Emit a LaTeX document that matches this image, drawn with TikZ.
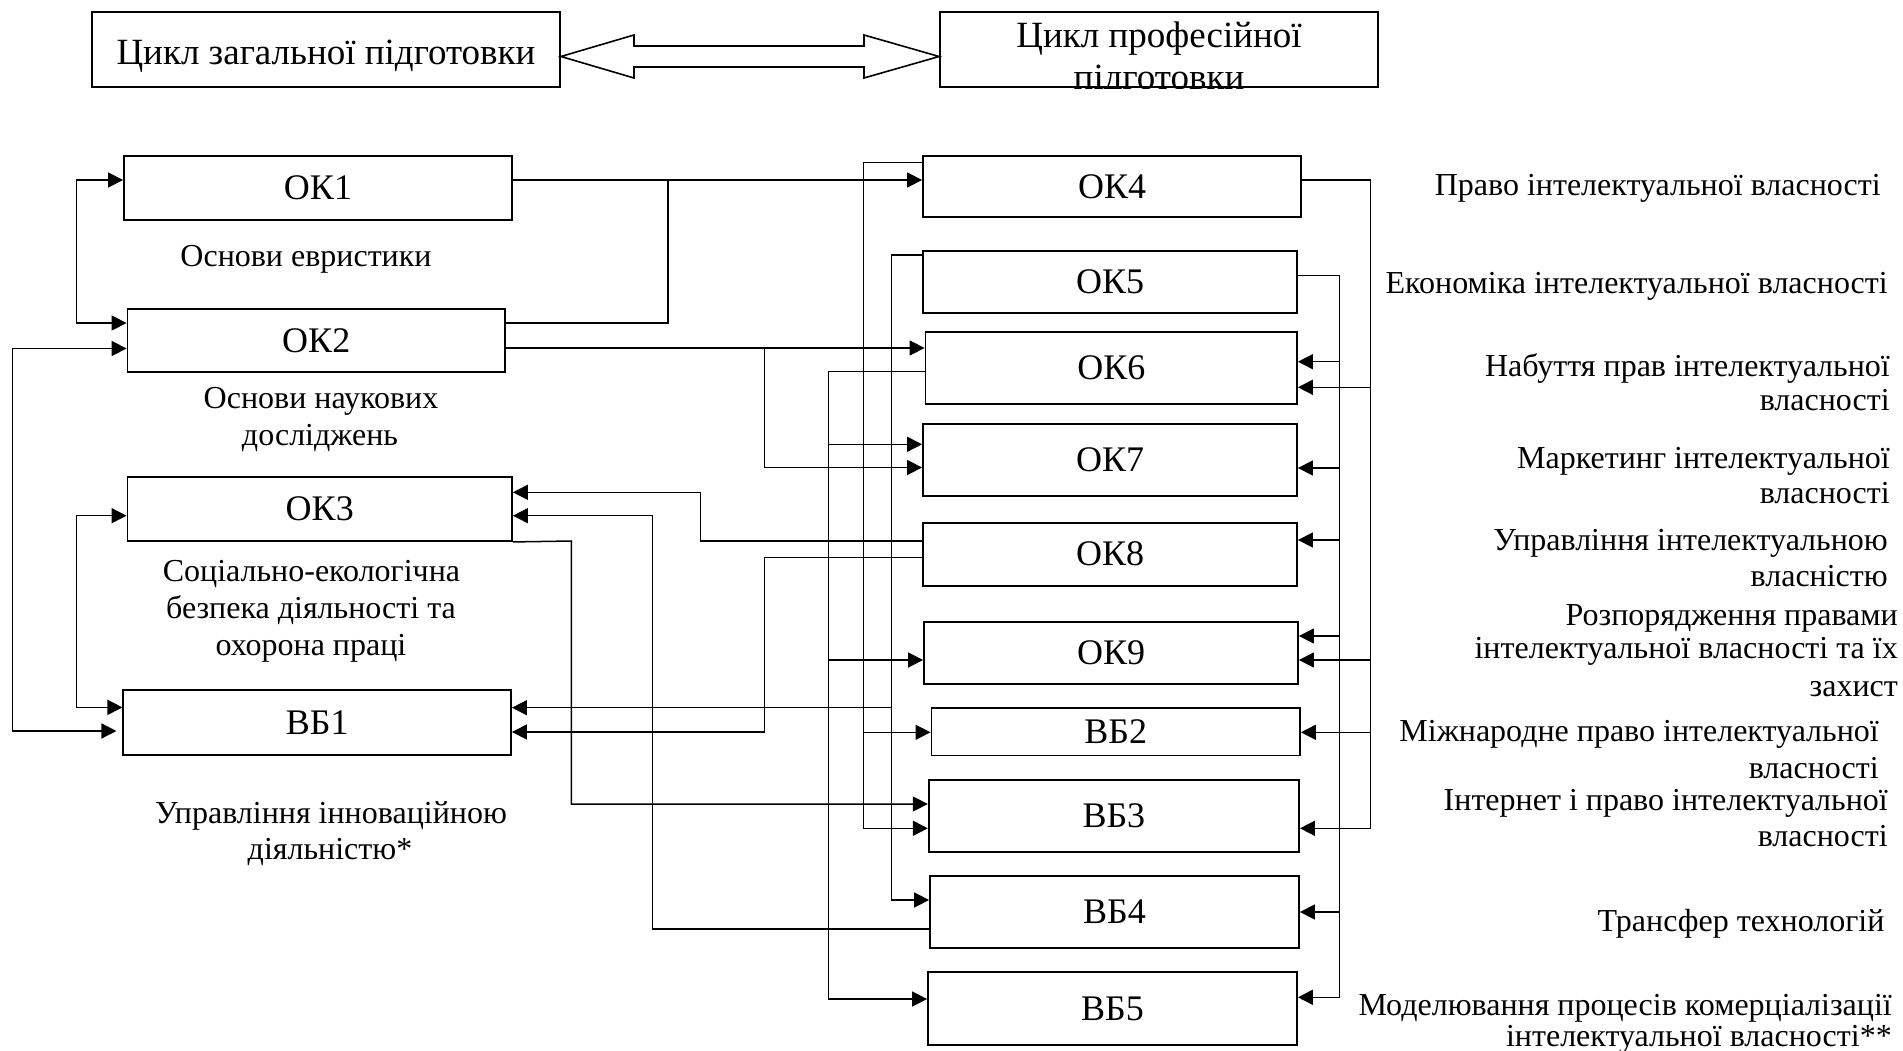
\documentclass[tikz,border=0pt]{standalone}
\usepackage{fontspec}
\setmainfont{Liberation Serif}
\usetikzlibrary{arrows.meta}
\begin{document}
\begin{tikzpicture}[x=1pt,y=-1pt,
  box/.style={draw, line width=1.8pt, inner sep=0pt, font=\fontsize{36}{40}\selectfont},
  topbox/.style={draw, line width=1.8pt, inner sep=0pt},
  toptxt/.style={inner sep=0pt, font=\fontsize{37}{41}\selectfont},
  conn/.style={line width=1.5pt},
  arr/.style={conn, -{Triangle[length=15pt,width=15pt]}},
  arrboth/.style={conn, {Triangle[length=15pt,width=15pt]}-{Triangle[length=15pt,width=15pt]}},
  lab/.style={inner sep=0pt, font=\fontsize{32}{36}\selectfont},
]
\useasboundingbox (0,0) rectangle (1903,1051);

% ---- top boxes ----
\node[topbox, minimum width=468pt, minimum height=75.6pt] (tA) at (326,49.5) {};
\node[toptxt, anchor=base] (tAt) at (tA.center |- 0,65) {Цикл загальної підготовки};
\node[topbox, minimum width=438pt, minimum height=75.6pt] (tB) at (1159,49.5) {};
\begin{scope}
  \clip (tB.north west) rectangle (tB.south east);
  \node[toptxt, anchor=base] (tBt1) at (tB.center |- 0,48) {Цикл професійної};
  \node[toptxt, anchor=base] (tBt2) at (tB.center |- 0,90) {підготовки};
\end{scope}
\draw[line width=1.6pt] (tA.east |- 0,56.5) -- (634,35) -- (634,46) -- (864,46) -- (864,35)
  -- (tB.west |- 0,56.5) -- (864,78) -- (864,67) -- (634,67) -- (634,78) -- cycle;

% ---- left column ----
\node[box, minimum width=388pt, minimum height=64pt] (ok1) at (318,188) {ОК1};
\node[box, minimum width=377.5pt, minimum height=62.7pt] (ok2) at (316.25,340.4) {ОК2};
\node[box, minimum width=384.5pt, minimum height=64.3pt] (ok3) at (319.75,508.9) {ОК3};
\node[box, minimum width=387.7pt, minimum height=65.4pt] (vb1) at (317.2,722.3) {ВБ1};

\node[lab, anchor=base] (l1) at (306,266.7) {Основи евристики};
\node[lab, anchor=base] (l2a) at (321,408.3) {Основи наукових};
\node[lab, anchor=base] (l2b) at (320,445) {досліджень};
\node[lab, anchor=base] (l3a) at (311.5,581.7) {Соціально-екологічна};
\node[lab, anchor=base] (l3b) at (311,618) {безпека діяльності та};
\node[lab, anchor=base] (l3c) at (311,655) {охорона праці};
\node[lab, anchor=base] (l4a) at (331,823) {Управління інноваційною};
\node[lab, anchor=base] (l4b) at (330,859.6) {діяльністю*};

% ---- right column ----
\node[box, minimum width=378pt, minimum height=61.6pt] (ok4) at (1112,186.5) {ОК4};
\node[box, minimum width=374pt, minimum height=62.3pt] (ok5) at (1110,281.9) {ОК5};
\node[box, minimum width=371.5pt, minimum height=71.7pt] (ok6) at (1111.25,368.2) {ОК6};
\node[box, minimum width=374pt, minimum height=71.4pt] (ok7) at (1110,460) {ОК7};
\node[box, minimum width=374pt, minimum height=63pt] (ok8) at (1110,554.2) {ОК8};
\node[box, minimum width=374pt, minimum height=62.3pt] (ok9) at (1111,652.9) {ОК9};
\node[box, minimum width=368.6pt, minimum height=47.8pt] (vb2) at (1115.7,731.6) {ВБ2};
\node[box, minimum width=370.3pt, minimum height=71.7pt] (vb3) at (1113.9,815.9) {ВБ3};
\node[box, minimum width=369pt, minimum height=71.7pt] (vb4) at (1114.5,911.9) {ВБ4};
\node[box, minimum width=369pt, minimum height=73.3pt] (vb5) at (1112.5,1008.4) {ВБ5};

% ---- right labels ----
\node[lab, anchor=base east] (r1) at (1881,196) {Право інтелектуальної власності};
\node[lab, anchor=base east] (r2) at (1888,293) {Економіка інтелектуальної власності};
\node[lab, anchor=base east] (r3a) at (1890,376.7) {Набуття прав інтелектуальної};
\node[lab, anchor=base east] (r3b) at (1890,410) {власності};
\node[lab, anchor=base east] (r4a) at (1890,468) {Маркетинг інтелектуальної};
\node[lab, anchor=base east] (r4b) at (1890,503) {власності};
\node[lab, anchor=base east] (r5a) at (1888,550) {Управління інтелектуальною};
\node[lab, anchor=base east] (r5b) at (1888,586.7) {власністю};
\node[lab, anchor=base east] (r6a) at (1898,625) {Розпорядження правами};
\node[lab, anchor=base east] (r6b) at (1898,658.3) {інтелектуальної власності та їх};
\node[lab, anchor=base east] (r6c) at (1898,696) {захист};
\node[lab, anchor=base east] (r7a) at (1879,741.7) {Міжнародне право інтелектуальної};
\node[lab, anchor=base east] (r7b) at (1879,778) {власності};
\node[lab, anchor=base east] (r8a) at (1888,810) {Інтернет і право інтелектуальної};
\node[lab, anchor=base east] (r8b) at (1888,846.7) {власності};
\node[lab, anchor=base east] (r9) at (1884.6,931.7) {Трансфер технологій};
\node[lab, anchor=base east] (r10a) at (1892,1015) {Моделювання процесів комерціалізації};
\node[lab, anchor=base east] (r10b) at (1892,1046.7) {інтелектуальної власності**};

% ---- left connectors ----
\draw[arr] (ok1.east |- 0,180) -- (ok4.west |- 0,180);
\draw[conn] (ok2.east |- 0,323) -- (668,323) -- (668,180);
\draw[arrboth] (ok1.west |- 0,180) -- (76.5,180) -- (76.5,323) -- (ok2.west |- 0,323);
\draw[arrboth, shorten >=6pt] (ok2.west |- 0,348.5) -- (12.3,348.5) -- (12.3,731) -- (vb1.west |- 0,731);
\draw[arrboth] (ok3.west |- 0,515.7) -- (76.5,515.7) -- (76.5,707.4) -- (vb1.west |- 0,707.4);
\draw[arr] (ok2.east |- 0,348) -- (ok6.west |- 0,348);
\coordinate (j1) at (764.3,348);
\draw[arr] (j1) -- (764.3,467.5) -- (ok7.west |- 0,467.5);

% ---- middle bus connectors ----
\draw[arr] (ok6.west |- 0,371.7) -- (828.3,371.7) -- (828.3,999) -- (vb5.west |- 0,999);
\draw[arr] (828.3,444.3) -- (ok7.west |- 0,444.3);
\draw[arr] (828.3,660) -- (ok9.west |- 0,660);
\draw[arr] (ok4.west |- 0,162.3) -- (863.3,162.3) -- (863.3,828.3) -- (vb3.west |- 0,828.3);
\draw[arr] (863.3,732.3) -- (vb2.west |- 0,732.3);
\draw[arr] (ok5.west |- 0,255) -- (891.5,255) -- (891.5,900) -- (vb4.west |- 0,900);
\draw[arr] (891.5,707.7) -- (vb1.east |- 0,707.7);
\draw[arr] (ok8.west |- 0,541) -- (700.7,541) -- (700.7,492.3) -- (ok3.east |- 0,492.3);
\draw[arr] (ok8.west |- 0,557.7) -- (764.3,557.7) -- (764.3,732) -- (vb1.east |- 0,732);
\draw[arr] (vb4.west |- 0,929) -- (652.3,929) -- (652.3,515.7) -- (ok3.east |- 0,515.7);
\draw[arr] (ok3.south east) -- (571.4,541) -- (571.4,804) -- (vb3.west |- 0,804);

% ---- right bus connectors ----
\draw[arr] (ok4.east |- 0,180) -- (1370.4,180) -- (1370.4,828.3) -- (vb3.east |- 0,828.3);
\foreach \yy/\nn in {387.3/ok6, 660/ok9, 732.3/vb2}
  \draw[arr] (1370.4,\yy) -- (\nn.east |- 0,\yy);
\draw[arr] (ok5.east |- 0,275.7) -- (1339.6,275.7) -- (1339.6,997.3) -- (vb5.east |- 0,997.3);
\foreach \yy/\nn in {361.7/ok6, 468/ok7, 540/ok8, 636/ok9, 912/vb4}
  \draw[arr] (1339.6,\yy) -- (\nn.east |- 0,\yy);
\end{tikzpicture}
\end{document}
